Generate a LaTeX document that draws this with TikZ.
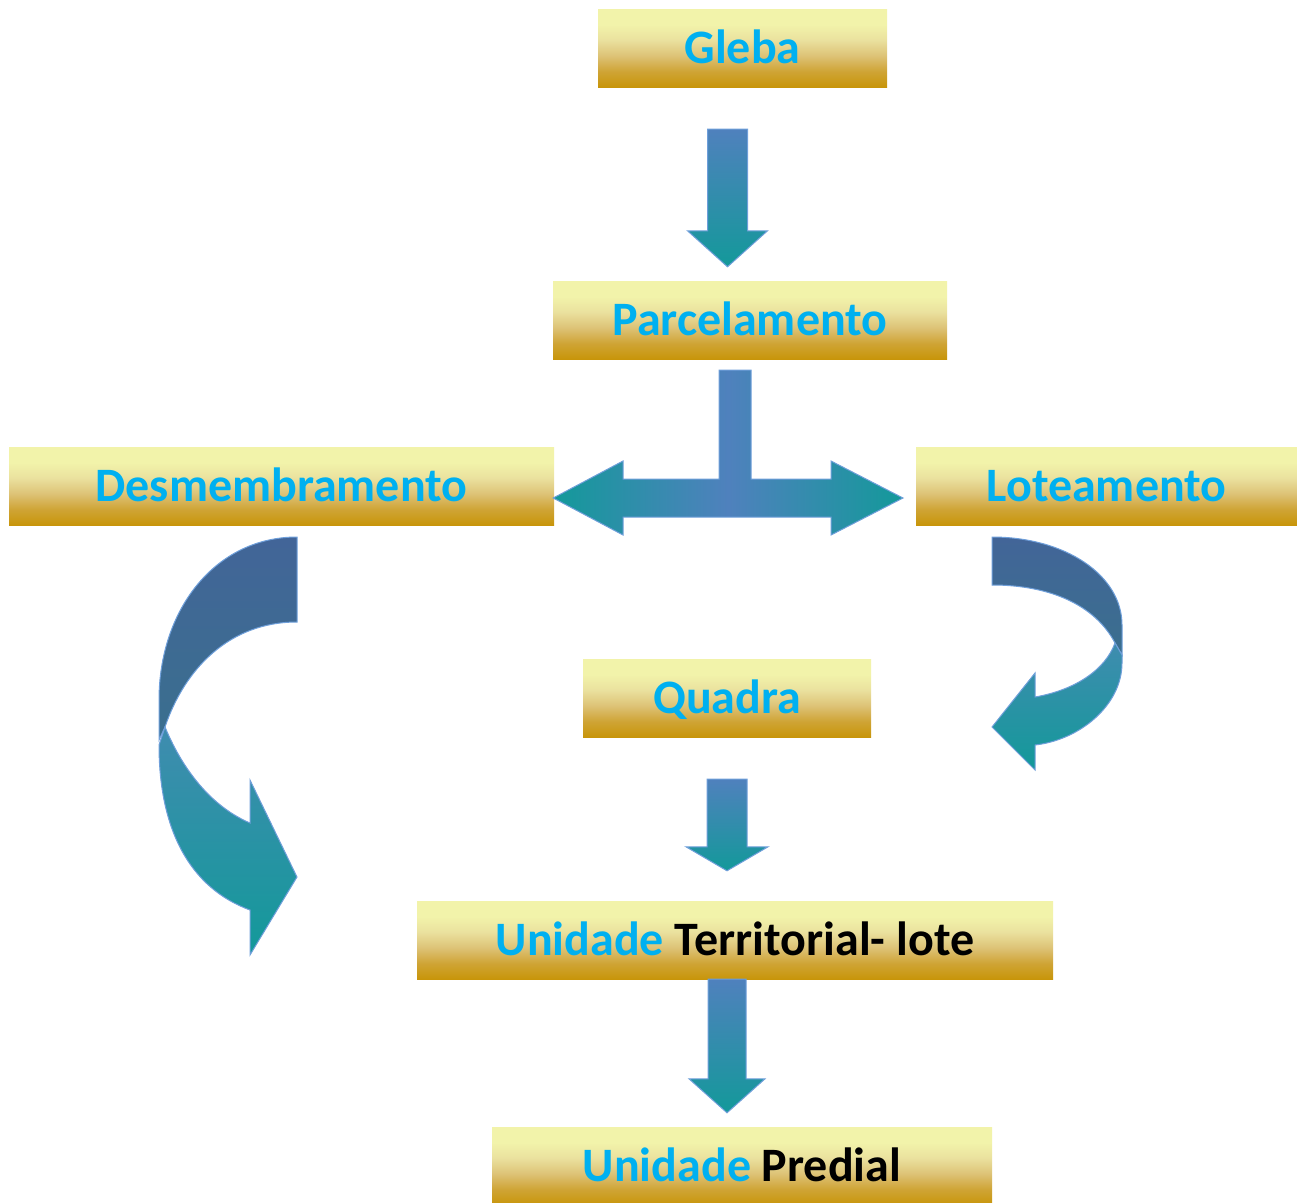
\documentclass[tikz,border=0pt]{standalone}
\usepackage{fontspec}
\setmainfont{Carlito}
\usetikzlibrary{calc}

\definecolor{txtAzul}{HTML}{00B0F0}
\definecolor{ouroB}{HTML}{C8950A}
\definecolor{ouroM1}{HTML}{CFA435}
\definecolor{ouroM2}{HTML}{DDC276}
\definecolor{ouroM3}{HTML}{EAE19E}
\definecolor{ouroT}{HTML}{F2F3AA}
\definecolor{azulSeta}{HTML}{4F81BD}
\definecolor{verdeSeta}{HTML}{13999A}
\definecolor{escuroA}{HTML}{426598}
\definecolor{escuroB}{HTML}{3A6F8E}
\definecolor{claroA}{HTML}{3F8CAF}
\definecolor{linhaSeta}{HTML}{6F9FDA}

\pgfdeclareverticalshading{ouro}{100bp}{color(0bp)=(ouroB); color(25bp)=(ouroB); color(35bp)=(ouroM1); color(45bp)=(ouroM2); color(55bp)=(ouroM3); color(65bp)=(ouroT); color(100bp)=(ouroT)}

\tikzset{
  caixa/.style={shade, shading=ouro, minimum height=78, inner sep=0pt, text=txtAzul,
    font=\fontsize{48}{52}\selectfont\bfseries, text height=31pt, text depth=0pt},
  seta/.style={draw=linhaSeta, line width=1pt, line join=miter},
}

% seta larga para baixo: #1 topo, #2 ponta, #3 meia haste, #4 meia ponta, #5 altura da ponta
\newcommand{\setaBaixo}[5]{%
  \path[seta, top color=azulSeta, bottom color=verdeSeta] let \p1=(#1), \p2=(#2) in
    (\x1-#3pt,\y1) -- (\x1+#3pt,\y1) -- (\x1+#3pt,\y2+#5pt) -- (\x1+#4pt,\y2+#5pt)
    -- (\x1,\y2) -- (\x1-#4pt,\y2+#5pt) -- (\x1-#3pt,\y2+#5pt) -- cycle;}

\begin{document}
\begin{tikzpicture}[x=1pt, y=-1pt]
  \useasboundingbox (0,0) rectangle (1297,1202);
  \clip (0,0) rectangle (1297,1202);

  % caixas
  \node[caixa, minimum width=289] (gleba) at (742.5,48) {Gleba};
  \node[caixa, minimum width=394] (parcel) at (750,320) {Parcelamento};
  \node[caixa, minimum width=545] (desm) at (281.5,486) {Desmembramento};
  \node[caixa, minimum width=381] (lote) at (1106.5,486) {Loteamento};
  \node[caixa, minimum width=288] (quadra) at (727,698) {Quadra};
  \node[caixa, minimum width=636] (unid) at (735,940) {Unidade \textcolor{black}{Territorial- lote}};
  \node[caixa, minimum width=500] (predial) at (742,1166) {Unidade \textcolor{black}{Predial}};

  % setas retas
  \coordinate (s1a) at ($(gleba.south)+(-15,42)$);
  \coordinate (s1b) at ($(parcel.north)+(-23,-14)$);
  \coordinate (s3a) at ($(quadra.south)+(0,42)$);
  \coordinate (s3b) at ($(unid.north)+(-8,-30)$);
  \coordinate (s4a) at ($(unid.south)+(-8,0)$);
  \coordinate (s4b) at ($(predial.north)+(-15,-14)$);
  \setaBaixo{s1a}{s1b}{20}{40}{36}
  \setaBaixo{s3a}{s3b}{20}{41}{24}
  \setaBaixo{s4a}{s4b}{19}{38}{34}

  % seta em T
  \path[seta, left color=verdeSeta, right color=verdeSeta, middle color=azulSeta]
    (desm.east) ++(-1,12) -- (623,461) -- (623,479) -- (719,479) -- (719,370)
    -- (751,370) -- (751,479) -- (831,479) -- (831,461) -- (903,498)
    -- (831,535) -- (831,517) -- (623,517) -- (623,535) -- cycle;

  % seta curva esquerda
  \path[seta, top color=escuroA, bottom color=escuroB]
    (297,537) .. controls (215,537) and (159,610) .. (159,700) -- (159,740) -- (165,727)
    .. controls (185,668) and (230,622) .. (297,622) -- cycle;
  \path[seta, top color=claroA, bottom color=verdeSeta]
    (165,727) .. controls (185,775) and (215,808) .. (250,823) -- (250,780) -- (297,877)
    -- (250,955) -- (250,910) .. controls (190,888) and (159,830) .. (159,745) -- cycle;

  % seta curva direita
  \path[seta, top color=escuroA, bottom color=escuroB]
    (992,537) .. controls (1065,537) and (1122,575) .. (1122,625) -- (1122,655) -- (1115,643)
    .. controls (1095,605) and (1050,585) .. (992,585) -- cycle;
  \path[seta, top color=claroA, bottom color=verdeSeta]
    (1115,643) -- (1122,655) -- (1122,663) .. controls (1122,705) and (1080,740) .. (1035,745)
    -- (1035,770) -- (992,727) -- (1035,673) -- (1035,697)
    .. controls (1075,690) and (1105,670) .. (1115,643) -- cycle;
\end{tikzpicture}
\end{document}
